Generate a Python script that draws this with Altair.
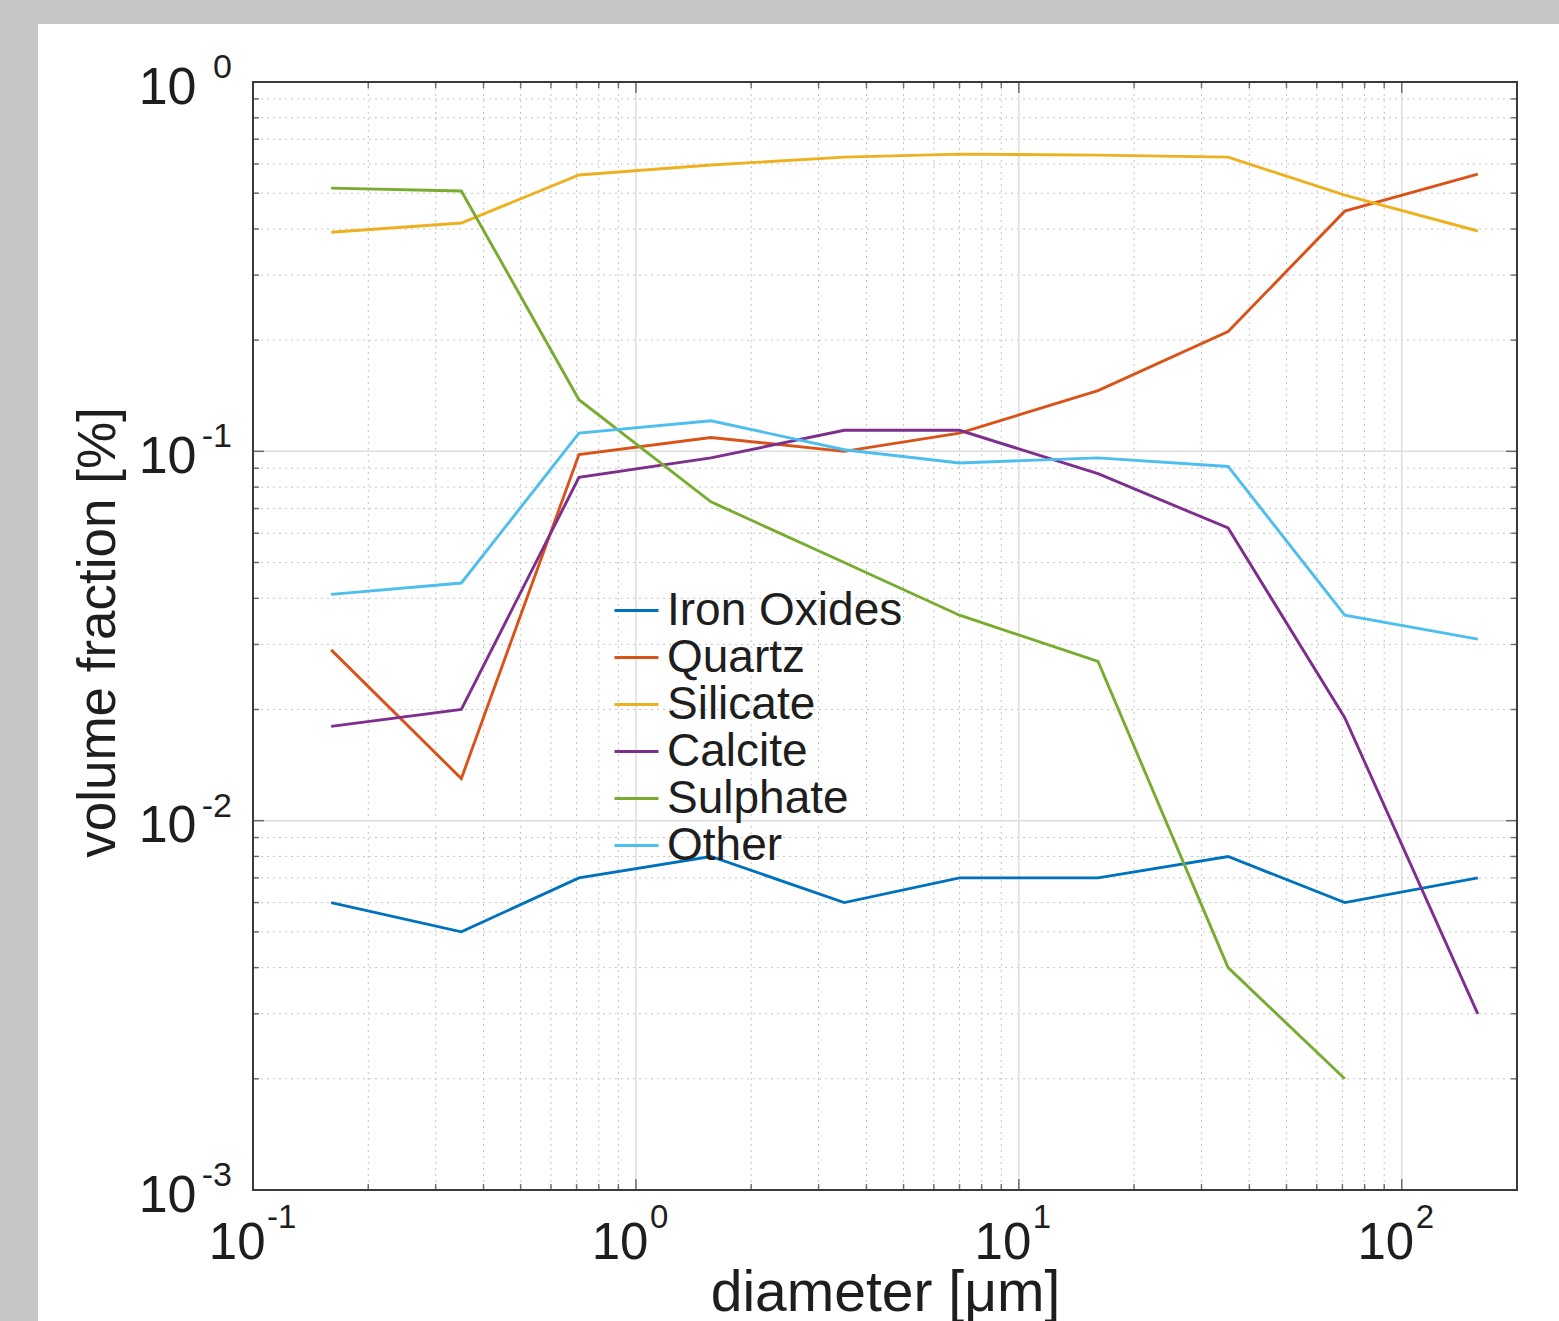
import altair as alt
import pandas as pd

# ---------------- data ----------------
diameter = [0.16, 0.35, 0.71, 1.57, 3.5, 7.0, 16.1, 35.2, 71, 158]
iron_oxides = [0.006, 0.005, 0.007, 0.008, 0.006, 0.007, 0.007, 0.008, 0.006, 0.007]
quartz = [0.029, 0.013, 0.098, 0.109, 0.100, 0.112, 0.146, 0.211, 0.447, 0.563]
silicate = [0.392, 0.415, 0.560, 0.596, 0.626, 0.638, 0.634, 0.626, 0.494, 0.395]
calcite = [0.018, 0.020, 0.085, 0.096, 0.114, 0.114, 0.087, 0.062, 0.019, 0.003]
sulphate = [0.516, 0.507, 0.138, 0.073, 0.050, 0.036, 0.027, 0.004, 0.002, None]
other = [0.041, 0.044, 0.112, 0.121, 0.101, 0.093, 0.096, 0.091, 0.036, 0.031]

series_names = ["Iron Oxides", "Quartz", "Silicate", "Calcite", "Sulphate", "Other"]
series_colors = ["#0072BD", "#D95319", "#EDB120", "#7E2F8E", "#77AC30", "#4DBEEE"]

x_major = [0.1, 1, 10, 100]
x_exponents = ["-1", "0", "1", "2"]
x_minor = [0.2, 0.3, 0.4, 0.5, 0.6, 0.7, 0.8, 0.9,
           2, 3, 4, 5, 6, 7, 8, 9,
           20, 30, 40, 50, 60, 70, 80, 90]
y_major = [0.001, 0.01, 0.1, 1]
y_exponents = ["-3", "-2", "-1", "0"]
y_minor = [0.002, 0.003, 0.004, 0.005, 0.006, 0.007, 0.008, 0.009,
           0.02, 0.03, 0.04, 0.05, 0.06, 0.07, 0.08, 0.09,
           0.2, 0.3, 0.4, 0.5, 0.6, 0.7, 0.8, 0.9]

x_title = "diameter [μm]"
y_title = "volume fraction [%]"

# ---------------- tables ----------------
all_series = [iron_oxides, quartz, silicate, calcite, sulphate, other]
rows = []
for name, vals in zip(series_names, all_series):
    for d, v in zip(diameter, vals):
        if v is not None:
            rows.append({"diameter": d, "fraction": v, "series": name})
lines_df = pd.DataFrame(rows)

W, H = 1264, 1108
FONT = "Liberation Sans"
TXT = "#1e1e1e"
BOX = "#3a3a3a"

xscale = alt.Scale(type="log", domain=[0.1, 200], nice=False)
yscale = alt.Scale(type="log", domain=[0.001, 1], nice=False)

base_one = pd.DataFrame({"k": [0]})

background = alt.Chart(base_one).mark_rect(color="white", clip=False).encode(
    x=alt.value(-215), x2=alt.value(1306), y=alt.value(-58), y2=alt.value(1239)
)

def vgrid(values, dash, color, width):
    return alt.Chart(pd.DataFrame({"v": values})).mark_rule(
        color=color, strokeDash=dash, strokeWidth=width
    ).encode(x=alt.X("v:Q", scale=xscale, axis=None))

def hgrid(values, dash, color, width):
    return alt.Chart(pd.DataFrame({"v": values})).mark_rule(
        color=color, strokeDash=dash, strokeWidth=width
    ).encode(y=alt.Y("v:Q", scale=yscale, axis=None))

grid_layers = [
    vgrid(x_minor, [2, 4], "#c4c4c4", 1),
    hgrid(y_minor, [2, 4], "#c4c4c4", 1),
    vgrid(x_major, [1, 0], "#dedede", 1.5),
    hgrid(y_major, [1, 0], "#dedede", 1.5),
]

lines = alt.Chart(lines_df).mark_line(strokeWidth=2.9, clip=True).encode(
    x=alt.X(
        "diameter:Q",
        scale=xscale,
        axis=alt.Axis(
            values=x_major, labelExpr="'10'", labelAlign="right", labelOffset=12,
            labelPadding=28, labelBaseline="top", labelFontSize=51,
            title=x_title, titleFontSize=57, titleX=W / 2, titleY=120,
            titleAlign="center", titleBaseline="alphabetic", zindex=2,
            orient="bottom", domain=False, ticks=False, grid=False,
        ),
    ),
    y=alt.Y(
        "fraction:Q",
        scale=yscale,
        axis=alt.Axis(
            values=y_major, labelExpr="'10'", labelAlign="right",
            labelPadding=57, labelOffset=5, labelFontSize=52,
            title=y_title, titleFontSize=53, titleAngle=270, titleX=-139,
            titleY=550, titleAlign="center", titleBaseline="alphabetic", zindex=2,
            orient="left", domain=False, ticks=False, grid=False,
        ),
    ),
    color=alt.Color(
        "series:N",
        sort=series_names,
        scale=alt.Scale(domain=series_names, range=series_colors),
        legend=alt.Legend(
            orient="none", legendX=360, legendY=505, title=None,
            symbolType="stroke", symbolSize=1936, symbolStrokeWidth=2.9,
            labelFontSize=46, labelFont=FONT, labelColor=TXT, labelOffset=7,
            rowPadding=-4, padding=0, labelLimit=0, zindex=2,
        ),
    ),
)

def xticks(values, pos, length):
    return alt.Chart(pd.DataFrame({"v": values})).mark_tick(
        orient="vertical", clip=True, size=2 * length, thickness=1.5, color=BOX
    ).encode(x=alt.X("v:Q", scale=xscale, axis=None), y=alt.value(pos))

def yticks(values, pos, length):
    return alt.Chart(pd.DataFrame({"v": values})).mark_tick(
        orient="horizontal", clip=True, size=2 * length, thickness=1.5, color=BOX
    ).encode(y=alt.Y("v:Q", scale=yscale, axis=None), x=alt.value(pos))

tick_layers = [
    xticks(x_major, H, 11), xticks(x_minor, H, 6),
    xticks(x_major, 0, 11), xticks(x_minor, 0, 6),
    yticks(y_major, 0, 11), yticks(y_minor, 0, 6),
    yticks(y_major, W, 11), yticks(y_minor, W, 6),
]

box = alt.Chart(base_one).mark_rect(fill=None, stroke=BOX, strokeWidth=2).encode(
    x=alt.value(0), x2=alt.value(W), y=alt.value(0), y2=alt.value(H)
)

x_exp = alt.Chart(pd.DataFrame({"v": x_major, "e": x_exponents})).mark_text(
    align="left", baseline="middle", fontSize=33, font=FONT, color=TXT, dx=14
).encode(x=alt.X("v:Q", scale=xscale, axis=None), y=alt.value(H + 28), text="e:N")

y_exp = alt.Chart(pd.DataFrame({"v": y_major, "e": y_exponents})).mark_text(
    align="right", baseline="middle", fontSize=34, font=FONT, color=TXT, dy=-14
).encode(y=alt.Y("v:Q", scale=yscale, axis=None), x=alt.value(-21), text="e:N")

chart = alt.layer(
    background, *grid_layers, lines, *tick_layers, box, x_exp, y_exp
).resolve_axis(
    x="independent", y="independent"
).properties(
    width=W, height=H,
    autosize=alt.AutoSizeParams(type="none"),
    padding={"left": 253, "top": 82, "right": 42, "bottom": 131},
).configure(
    background="#c6c6c6",
    font=FONT,
).configure_view(
    stroke=None,
).configure_axis(
    labelFont=FONT, titleFont=FONT,
    labelColor=TXT, titleColor=TXT, titleFontWeight="normal",
)

chart.save("out.html", embed_options={"renderer": "svg", "actions": False})
